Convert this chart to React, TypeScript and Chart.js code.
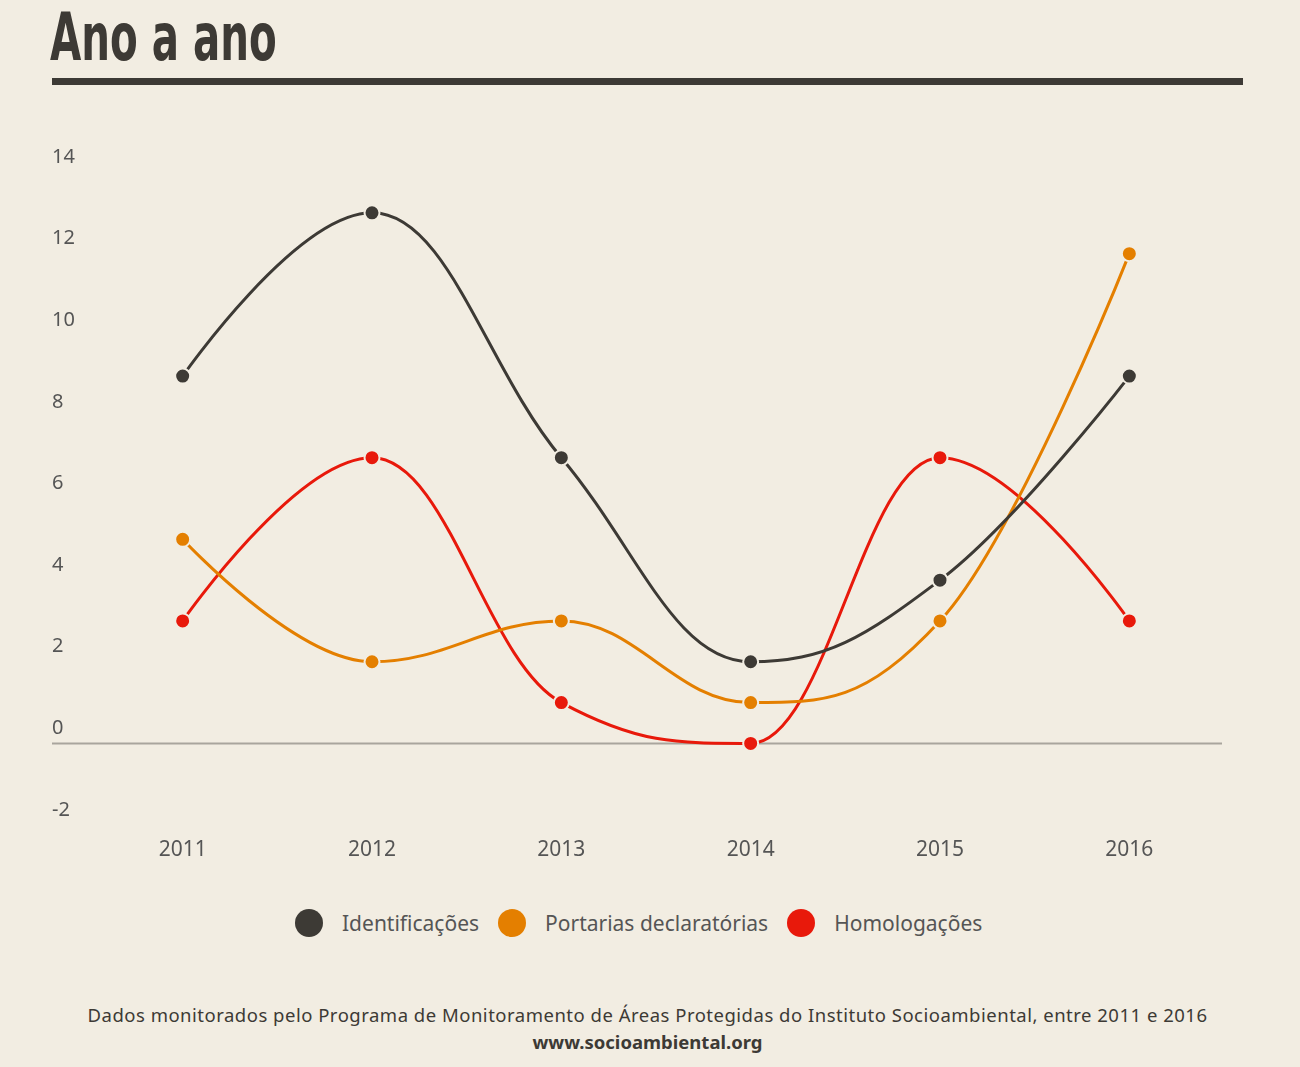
import React, { useEffect, useRef } from "react";
import { Chart, registerables } from "chart.js";

Chart.register(...registerables);

const years = ["2011", "2012", "2013", "2014", "2015", "2016"];
const identificacoes = [9, 13, 7, 2, 4, 9];
const portarias = [5, 2, 3, 1, 3, 12];
const homologacoes = [3, 7, 1, 0, 7, 3];
const yTicks = [-2, 0, 2, 4, 6, 8, 10, 12, 14];

const BG = "#f2ede2";
const DARK = "#3d3a35";
const ORANGE = "#e47f00";
const RED = "#e8190b";
const FONT = "'Noto Sans', 'DejaVu Sans', sans-serif";
const TITLE_FONT = "'DejaVu Sans Condensed', 'DejaVu Sans', sans-serif";

const zeroLine = {
  id: "zeroLine",
  beforeDatasetsDraw(chart: any) {
    const { ctx, chartArea, scales } = chart;
    const y = Math.round(scales.y.getPixelForValue(0)) + 0.5;
    ctx.save();
    ctx.strokeStyle = "#a9a59d";
    ctx.lineWidth = 2;
    ctx.beginPath();
    ctx.moveTo(scales.y.left, y);
    ctx.lineTo(chartArea.right - 2, y);
    ctx.stroke();
    ctx.restore();
  },
};

// spline control points in the style of the original chart (no overshoot at extrema)
const splinePoints = {
  id: "splinePoints",
  beforeDatasetsDraw(chart: any) {
    const smoothing = 1.5;
    const denom = smoothing + 1;
    chart.data.datasets.forEach((_d: any, di: number) => {
      const meta = chart.getDatasetMeta(di);
      const pts = meta.data;
      const n = pts.length;
      for (let i = 0; i < n; i++) {
        const p = pts[i];
        const prev = pts[i - 1];
        const next = pts[i + 1];
        if (prev && next) {
          const lx = (smoothing * p.x + prev.x) / denom;
          let ly = (smoothing * p.y + prev.y) / denom;
          const rx = (smoothing * p.x + next.x) / denom;
          let ry = (smoothing * p.y + next.y) / denom;
          let corr = 0;
          if (rx !== lx) corr = ((ry - ly) * (rx - p.x)) / (rx - lx) + p.y - ry;
          ly += corr;
          ry += corr;
          if (ly > prev.y && ly > p.y) {
            ly = Math.max(prev.y, p.y);
            ry = 2 * p.y - ly;
          } else if (ly < prev.y && ly < p.y) {
            ly = Math.min(prev.y, p.y);
            ry = 2 * p.y - ly;
          }
          if (ry > next.y && ry > p.y) {
            ry = Math.max(next.y, p.y);
            ly = 2 * p.y - ry;
          } else if (ry < next.y && ry < p.y) {
            ry = Math.min(next.y, p.y);
            ly = 2 * p.y - ry;
          }
          p.cp1x = lx;
          p.cp1y = ly;
          p.cp2x = rx;
          p.cp2y = ry;
        } else {
          p.cp1x = p.x;
          p.cp1y = p.y;
          p.cp2x = p.x;
          p.cp2y = p.y;
        }
      }
      if (meta.dataset) {
        meta.dataset._pointsUpdated = true;
        meta.dataset._path = undefined;
      }
    });
  },
};

function makeDs(label: string, data: number[], color: string) {
  return {
    label,
    data,
    borderColor: color,
    backgroundColor: color,
    borderWidth: 3,
    tension: 0.4,
    capBezierPoints: false,
    pointRadius: 7.5,
    pointHoverRadius: 7.5,
    pointBorderWidth: 2,
    pointBorderColor: BG,
    pointBackgroundColor: color,
  };
}

export default function App() {
  const ref = useRef<HTMLCanvasElement | null>(null);
  useEffect(() => {
    document.body.style.margin = "0";
    document.body.style.background = BG;
    const chart = new Chart(ref.current as HTMLCanvasElement, {
      type: "line",
      data: {
        labels: years,
        datasets: [
          makeDs("Identificações", identificacoes, DARK),
          makeDs("Portarias declaratórias", portarias, ORANGE),
          makeDs("Homologações", homologacoes, RED),
        ],
      },
      options: {
        animation: false,
        responsive: false,
        maintainAspectRatio: false,
        layout: { padding: { left: 52, right: 76, top: 72, bottom: 0 } },
        plugins: { legend: { display: false }, tooltip: { enabled: false } },
        scales: {
          x: {
            offset: true,
            grid: { display: false, drawTicks: false },
            border: { display: false },
            ticks: { color: "#555", font: { family: FONT, size: 21 }, padding: 12 },
            afterFit: (s: any) => {
              s.height = 55;
            },
          },
          y: {
            min: -2,
            max: 14,
            afterBuildTicks: (s: any) => {
              s.ticks = yTicks.map((v) => ({ value: v }));
            },
            grid: { display: false, drawTicks: false },
            border: { display: false },
            ticks: {
              color: "#555",
              font: { family: FONT, size: 20 },
              crossAlign: "far",
              labelOffset: -15,
              padding: 0,
            },
            afterFit: (s: any) => {
              s.width = 36;
            },
          },
        },
      },
      plugins: [zeroLine, splinePoints],
    } as any);
    return () => chart.destroy();
  }, []);

  const legendItems = [
    { label: "Identificações", color: DARK },
    { label: "Portarias declaratórias", color: ORANGE },
    { label: "Homologações", color: RED },
  ];

  return (
    <div style={{ position: "relative", width: 1300, height: 1067, background: BG, overflow: "hidden", fontFamily: FONT }}>
      <div
        style={{
          position: "absolute",
          left: 50,
          top: -2,
          fontFamily: TITLE_FONT,
          fontWeight: 700,
          fontSize: 65,
          lineHeight: "80px",
          color: DARK,
          transform: "scaleX(0.69)",
          transformOrigin: "left top",
          whiteSpace: "nowrap",
        }}
      >
        Ano a ano
      </div>
      <div style={{ position: "absolute", left: 52, top: 78, width: 1191, height: 7, background: DARK }} />
      <canvas ref={ref} width={1300} height={780} style={{ position: "absolute", left: 0, top: 100, width: 1300, height: 780 }} />
      <div
        style={{
          position: "absolute",
          left: 295,
          top: 908,
          height: 30,
          display: "flex",
          alignItems: "center",
          fontSize: 21,
          color: "#555",
          whiteSpace: "nowrap",
        }}
      >
        {legendItems.map((it, i) => (
          <div key={i} style={{ display: "flex", alignItems: "center", marginRight: 19 }}>
            <span style={{ width: 28, height: 28, borderRadius: 14, background: it.color, display: "inline-block", marginRight: 19 }} />
            <span>{it.label}</span>
          </div>
        ))}
      </div>
      <div
        style={{
          position: "absolute",
          left: 0,
          width: 1295,
          top: 1001,
          textAlign: "center",
          fontSize: 18.5,
          lineHeight: "27px",
          color: DARK,
          letterSpacing: 0.5,
          whiteSpace: "nowrap",
        }}
      >
        Dados monitorados pelo Programa de Monitoramento de Áreas Protegidas do Instituto Socioambiental, entre 2011 e 2016
        <br />
        <b style={{ letterSpacing: 0 }}>www.socioambiental.org</b>
      </div>
    </div>
  );
}
